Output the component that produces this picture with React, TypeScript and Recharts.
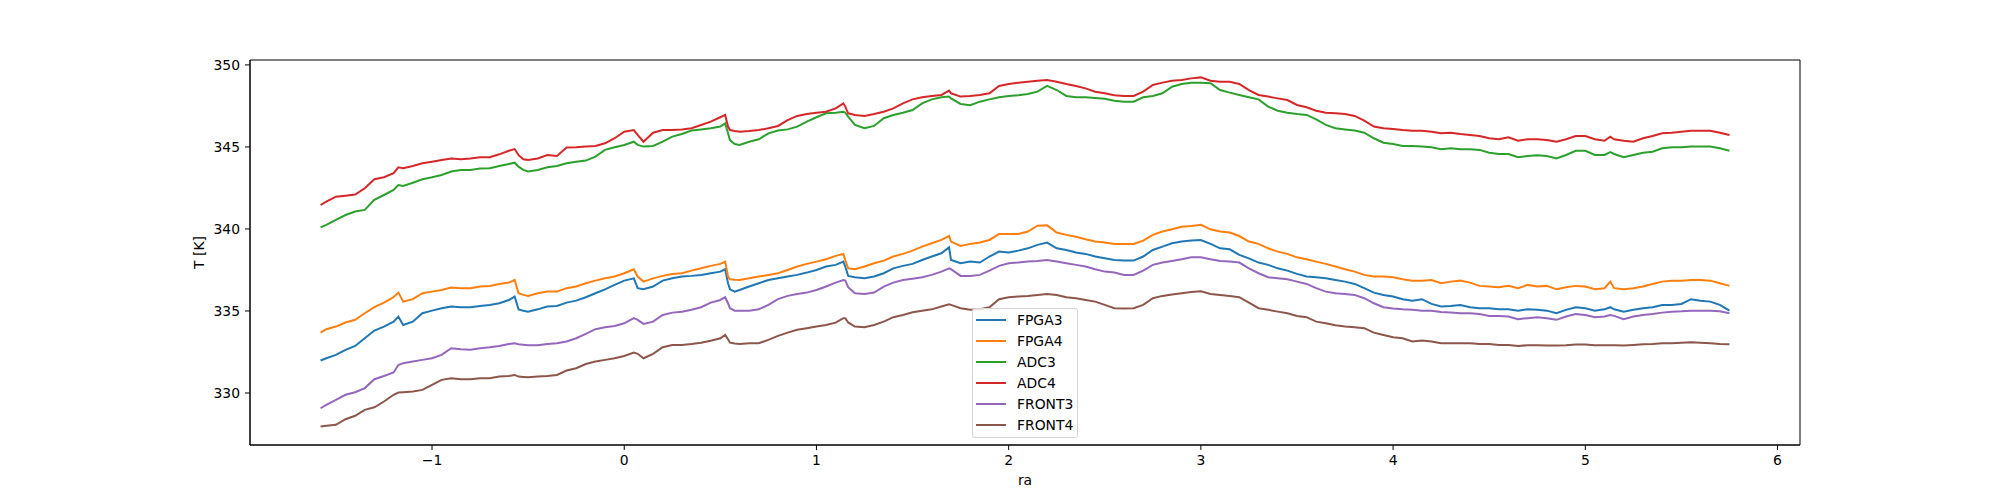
import { Legend, Line, LineChart, ReferenceArea, XAxis, YAxis } from 'recharts';

const raValues = [
  -1.58, -1.55, -1.5, -1.45, -1.4, -1.35, -1.3, -1.25, -1.2, -1.175, -1.15, -1.1, -1.05, -1.0, -0.95, -0.9, -0.85, -0.8, -0.75, -0.7, -0.65, -0.6, -0.57,
  -0.55, -0.525, -0.5, -0.45, -0.4, -0.35, -0.3, -0.25, -0.2, -0.15, -0.1, -0.05, 0, 0.05, 0.07, 0.1, 0.15, 0.2, 0.25, 0.3, 0.35, 0.4, 0.45,
  0.5, 0.525, 0.54, 0.55, 0.575, 0.6, 0.65, 0.7, 0.75, 0.8, 0.85, 0.9, 0.95, 1.0, 1.05, 1.1, 1.14, 1.15, 1.165, 1.2, 1.25, 1.3, 1.35, 1.4, 1.45,
  1.5, 1.55, 1.6, 1.65, 1.69, 1.7, 1.75, 1.8, 1.85, 1.9, 1.95, 2.0, 2.05, 2.1, 2.15, 2.2, 2.25, 2.3, 2.35, 2.4, 2.45, 2.5,
  2.55, 2.6, 2.65, 2.7, 2.75, 2.8, 2.85, 2.9, 2.95, 3.0, 3.05, 3.1, 3.15, 3.2, 3.25, 3.3, 3.35, 3.4, 3.45, 3.5, 3.55,
  3.6, 3.65, 3.7, 3.75, 3.8, 3.85, 3.9, 3.95, 4.0, 4.05, 4.1, 4.15, 4.2, 4.25, 4.3, 4.35, 4.4, 4.45, 4.5, 4.55, 4.6, 4.65,
  4.7, 4.75, 4.8, 4.85, 4.9, 4.95, 5.0, 5.05, 5.1, 5.13, 5.15, 5.2, 5.25, 5.3, 5.35, 5.4, 5.45, 5.5, 5.55, 5.6, 5.65, 5.7, 5.75,
];

const fpga3 = [
  331.98, 332.12, 332.32, 332.63, 332.87, 333.34, 333.81, 334.05, 334.35, 334.66, 334.15, 334.35, 334.86, 335.02, 335.17, 335.27, 335.23, 335.23, 335.31, 335.37, 335.47, 335.67, 335.88,
  335.1, 335.02, 334.96, 335.1, 335.27, 335.31, 335.51, 335.63, 335.84, 336.08, 336.32, 336.59, 336.85, 336.99, 336.39, 336.32, 336.49, 336.85, 336.99, 337.1, 337.14, 337.2, 337.3,
  337.4, 337.54, 336.69, 336.32, 336.18, 336.28, 336.49, 336.69, 336.89, 336.99, 337.1, 337.2, 337.34, 337.5, 337.71, 337.81, 338.01, 337.71, 337.14, 337.06, 336.99, 337.1, 337.3, 337.6, 337.75,
  337.87, 338.11, 338.32, 338.52, 338.88, 338.11, 337.91, 338.01, 337.95, 338.32, 338.62, 338.56, 338.68, 338.82, 339.03, 339.17, 338.82, 338.72, 338.56, 338.48, 338.32, 338.21,
  338.11, 338.07, 338.07, 338.32, 338.72, 338.92, 339.13, 339.23, 339.29, 339.33, 339.09, 338.82, 338.76, 338.42, 338.21, 337.95, 337.81, 337.6, 337.46, 337.26, 337.1,
  337.06, 336.99, 336.89, 336.79, 336.65, 336.39, 336.12, 335.98, 335.88, 335.72, 335.63, 335.72, 335.43, 335.27, 335.31, 335.37, 335.23, 335.17, 335.17, 335.1, 335.1, 335.02,
  335.1, 335.07, 335.02, 334.86, 335.07, 335.23, 335.17, 335.02, 335.1, 335.23, 335.1, 334.96, 335.07, 335.17, 335.23, 335.37, 335.37, 335.43, 335.72, 335.63, 335.57, 335.37, 335.02,
];

const fpga4 = [
  333.68, 333.89, 334.05, 334.3, 334.46, 334.86, 335.23, 335.51, 335.84, 336.12, 335.57, 335.72, 336.08, 336.18, 336.28, 336.43, 336.39, 336.39, 336.49, 336.53, 336.65, 336.73, 336.89,
  336.08, 335.98, 335.92, 336.08, 336.18, 336.18, 336.39, 336.49, 336.69, 336.85, 336.99, 337.1, 337.3, 337.54, 337.1, 336.79, 336.99, 337.14, 337.26, 337.3, 337.46, 337.6, 337.75,
  337.87, 338.01, 337.1, 336.93, 336.9, 336.89, 336.99, 337.1, 337.2, 337.3, 337.5, 337.71, 337.87, 338.01, 338.15, 338.36, 338.48, 338.11, 337.6, 337.54, 337.71, 337.91, 338.07, 338.32, 338.48,
  338.68, 338.92, 339.13, 339.33, 339.57, 339.23, 338.97, 339.09, 339.17, 339.33, 339.7, 339.7, 339.7, 339.84, 340.2, 340.22, 339.78, 339.64, 339.53, 339.37, 339.23, 339.17,
  339.09, 339.09, 339.09, 339.29, 339.64, 339.84, 339.98, 340.14, 340.18, 340.25, 339.98, 339.84, 339.78, 339.57, 339.23, 339.09, 338.82, 338.62, 338.48, 338.27, 338.15,
  338.01, 337.87, 337.71, 337.54, 337.4, 337.2, 337.1, 337.1, 337.06, 336.93, 336.85, 336.85, 336.89, 336.69, 336.79, 336.85, 336.73, 336.53, 336.49, 336.45, 336.53, 336.39,
  336.59, 336.49, 336.53, 336.32, 336.45, 336.53, 336.49, 336.32, 336.39, 336.79, 336.39, 336.32, 336.39, 336.49, 336.65, 336.79, 336.85, 336.85, 336.89, 336.89, 336.85, 336.69, 336.53,
];

const adc3 = [
  340.1, 340.25, 340.55, 340.85, 341.06, 341.16, 341.77, 342.07, 342.38, 342.68, 342.62, 342.82, 343.03, 343.15, 343.29, 343.5, 343.6, 343.6, 343.68, 343.7, 343.84, 343.96, 344.04,
  343.8, 343.6, 343.5, 343.6, 343.76, 343.84, 344.0, 344.1, 344.17, 344.41, 344.82, 344.98, 345.12, 345.32, 345.12, 345.02, 345.06, 345.32, 345.63, 345.79, 346.0, 346.07, 346.14,
  346.24, 346.44, 345.83, 345.42, 345.18, 345.12, 345.32, 345.47, 345.83, 346.0, 346.07, 346.24, 346.54, 346.81, 347.05, 347.09, 347.15, 347.09, 346.85, 346.34, 346.14, 346.28, 346.75, 346.95, 347.09,
  347.25, 347.66, 347.9, 348.03, 348.07, 347.96, 347.62, 347.54, 347.76, 347.9, 348.03, 348.11, 348.15, 348.23, 348.37, 348.72, 348.47, 348.11, 348.03, 348.03, 347.98, 347.94,
  347.82, 347.76, 347.76, 348.03, 348.11, 348.27, 348.67, 348.84, 348.92, 348.92, 348.88, 348.47, 348.31, 348.17, 348.03, 347.9, 347.46, 347.21, 347.09, 347.01, 346.95,
  346.68, 346.34, 346.14, 346.07, 346.0, 345.87, 345.53, 345.26, 345.18, 345.06, 345.06, 345.02, 344.98, 344.86, 344.92, 344.86, 344.86, 344.82, 344.65, 344.57, 344.57, 344.37,
  344.45, 344.49, 344.45, 344.3, 344.51, 344.77, 344.77, 344.51, 344.51, 344.69, 344.57, 344.37, 344.51, 344.65, 344.71, 344.92, 344.98, 344.98, 345.02, 345.02, 345.02, 344.92, 344.77,
];

const adc4 = [
  341.46, 341.67, 341.97, 342.03, 342.1, 342.48, 343.03, 343.15, 343.4, 343.76, 343.7, 343.84, 344.0, 344.1, 344.2, 344.3, 344.25, 344.3, 344.37, 344.37, 344.55, 344.77, 344.87,
  344.5, 344.25, 344.2, 344.3, 344.51, 344.45, 344.96, 344.98, 345.02, 345.06, 345.22, 345.53, 345.93, 346.03, 345.73, 345.32, 345.87, 346.03, 346.03, 346.07, 346.14, 346.34, 346.54,
  346.81, 346.95, 346.24, 346.03, 345.97, 345.93, 345.97, 346.03, 346.14, 346.28, 346.64, 346.89, 347.01, 347.09, 347.15, 347.35, 347.66, 347.46, 347.05, 346.95, 346.89, 347.01, 347.15, 347.35, 347.66,
  347.9, 348.03, 348.11, 348.17, 348.43, 348.27, 348.07, 348.11, 348.17, 348.27, 348.72, 348.84, 348.92, 348.98, 349.04, 349.08, 348.98, 348.84, 348.72, 348.57, 348.37, 348.27,
  348.15, 348.11, 348.11, 348.37, 348.78, 348.92, 349.04, 349.08, 349.18, 349.24, 349.04, 348.98, 348.98, 348.84, 348.47, 348.17, 348.07, 347.96, 347.86, 347.56, 347.42,
  347.21, 347.09, 347.05, 347.01, 346.89, 346.6, 346.24, 346.14, 346.1, 346.03, 345.99, 345.99, 345.93, 345.83, 345.87, 345.79, 345.73, 345.67, 345.53, 345.47, 345.59, 345.38,
  345.47, 345.47, 345.42, 345.32, 345.47, 345.67, 345.67, 345.47, 345.38, 345.63, 345.47, 345.38, 345.32, 345.53, 345.67, 345.83, 345.87, 345.93, 345.99, 345.99, 345.99, 345.87, 345.73,
];

const front3 = [
  329.07, 329.28, 329.58, 329.89, 330.05, 330.3, 330.84, 331.04, 331.25, 331.71, 331.82, 331.92, 332.02, 332.12, 332.32, 332.73, 332.67, 332.63, 332.73, 332.79, 332.87, 332.99, 333.03,
  332.97, 332.94, 332.91, 332.91, 332.99, 333.03, 333.14, 333.34, 333.6, 333.89, 334.01, 334.09, 334.25, 334.56, 334.46, 334.21, 334.35, 334.76, 334.9, 334.96, 335.07, 335.23, 335.51,
  335.67, 335.84, 335.47, 335.17, 335.02, 335.02, 335.02, 335.1, 335.37, 335.72, 335.92, 336.04, 336.12, 336.28, 336.49, 336.73, 336.89, 336.85, 336.45, 336.08, 336.04, 336.12, 336.49, 336.73, 336.89,
  336.97, 337.06, 337.2, 337.4, 337.6, 337.55, 337.14, 337.14, 337.2, 337.46, 337.75, 337.91, 337.95, 338.01, 338.05, 338.11, 338.01, 337.91, 337.81, 337.71, 337.54, 337.4,
  337.34, 337.2, 337.2, 337.46, 337.81, 337.95, 338.05, 338.15, 338.27, 338.27, 338.15, 338.05, 338.01, 337.95, 337.6, 337.3, 337.06, 336.99, 336.93, 336.79, 336.65,
  336.39, 336.18, 336.08, 336.04, 335.98, 335.78, 335.47, 335.23, 335.15, 335.1, 335.07, 335.02, 335.02, 334.94, 334.9, 334.86, 334.86, 334.82, 334.7, 334.7, 334.66, 334.5,
  334.56, 334.62, 334.56, 334.46, 334.66, 334.82, 334.76, 334.62, 334.66, 334.76, 334.7, 334.5, 334.66, 334.76, 334.82, 334.9, 334.96, 334.98, 335.02, 335.02, 335.02, 334.98, 334.86,
];

const front4 = [
  327.96, 328.0, 328.06, 328.4, 328.61, 328.97, 329.13, 329.48, 329.89, 330.03, 330.05, 330.09, 330.19, 330.5, 330.8, 330.9, 330.84, 330.84, 330.9, 330.9, 331.0, 331.04, 331.1,
  331.0, 330.98, 330.96, 331.0, 331.04, 331.1, 331.37, 331.51, 331.77, 331.92, 332.02, 332.12, 332.26, 332.47, 332.39, 332.12, 332.39, 332.79, 332.93, 332.93, 332.99, 333.07, 333.18,
  333.34, 333.54, 333.28, 333.07, 333.02, 332.99, 333.03, 333.03, 333.24, 333.48, 333.68, 333.85, 333.95, 334.05, 334.15, 334.29, 334.56, 334.56, 334.3, 334.05, 334.01, 334.15, 334.35, 334.62, 334.76,
  334.92, 335.02, 335.1, 335.27, 335.41, 335.37, 335.17, 335.07, 335.1, 335.23, 335.72, 335.84, 335.88, 335.92, 335.98, 336.04, 335.98, 335.84, 335.78, 335.67, 335.57, 335.37,
  335.17, 335.15, 335.17, 335.37, 335.78, 335.92, 336.0, 336.08, 336.16, 336.2, 336.04, 335.98, 335.92, 335.84, 335.51, 335.17, 335.07, 334.96, 334.86, 334.7, 334.62,
  334.35, 334.25, 334.13, 334.05, 334.01, 333.95, 333.68, 333.54, 333.4, 333.34, 333.14, 333.2, 333.14, 333.03, 333.03, 333.03, 333.03, 332.99, 332.99, 332.93, 332.93, 332.87,
  332.91, 332.91, 332.89, 332.89, 332.91, 332.95, 332.95, 332.91, 332.91, 332.91, 332.91, 332.89, 332.93, 332.97, 332.99, 333.03, 333.03, 333.07, 333.09, 333.07, 333.03, 332.99, 332.97,
];

const seriesNames = ['FPGA3', 'FPGA4', 'ADC3', 'ADC4', 'FRONT3', 'FRONT4'];
const seriesColors = ['#1f77b4', '#ff7f0e', '#2ca02c', '#d62728', '#9467bd', '#8c564b'];
const seriesValues = [fpga3, fpga4, adc3, adc4, front3, front4];

const xTicks = [-1, 0, 1, 2, 3, 4, 5, 6];
const yTicks = [330, 335, 340, 345, 350];
const xDomain = [-1.947, 6.117];
const yDomain = [326.83, 350.3];

const data = raValues.map((ra, i) => {
  const row: Record<string, number> = { ra };
  seriesNames.forEach((name, k) => {
    row[name] = seriesValues[k][i];
  });
  return row;
});

const FONT = 'DejaVu Sans, sans-serif';
const tickStyle = { fill: '#000', fontSize: 13.9, fontFamily: FONT };

const fmtTick = (v: number) => (v < 0 ? `\u2212${Math.abs(v)}` : `${v}`);

// legend keeps the plotting order, not the alphabetical one
const renderLegend = () => (
  <div
    style={{
      position: 'relative',
      width: 104,
      height: 128,
      border: '1px solid #d4d4d4',
      borderRadius: 3,
      background: 'rgba(255,255,255,0.8)',
      fontFamily: FONT,
      fontSize: 13.9,
      color: '#000',
    }}
  >
    {seriesNames.map((name, i) => (
      <div
        key={name}
        style={{ position: 'absolute', left: 3, top: 4 + i * 21, height: 14, display: 'flex', alignItems: 'center' }}
      >
        <span style={{ display: 'inline-block', width: 30, borderTop: `2px solid ${seriesColors[i]}` }} />
        <span style={{ marginLeft: 11, lineHeight: '14px', whiteSpace: 'nowrap' }}>{name}</span>
      </div>
    ))}
  </div>
);

export default function App() {
  return (
    <div style={{ position: 'absolute', left: 0, top: 0, background: '#fff' }}>
      <LineChart width={2000} height={500} data={data} margin={{ top: 60, right: 200, bottom: 0, left: 190 }}>
        <XAxis
          dataKey="ra"
          type="number"
          domain={xDomain}
          ticks={xTicks}
          interval={0}
          tickFormatter={fmtTick}
          tick={tickStyle}
          tickSize={5}
          tickMargin={5}
          stroke="#000"
          height={55}
          label={(p: any) => (
            <text
              x={p.viewBox.x + p.viewBox.width / 2}
              y={p.viewBox.y + 40}
              textAnchor="middle"
              fontFamily={FONT}
              fontSize={13.9}
              fill="#000"
            >
              ra
            </text>
          )}
        />
        <YAxis
          type="number"
          domain={yDomain}
          ticks={yTicks}
          interval={0}
          tick={tickStyle}
          tickSize={5}
          tickMargin={5}
          stroke="#000"
          width={60}
          label={(p: any) => {
            const cx = p.viewBox.x + 9;
            const cy = p.viewBox.y + p.viewBox.height / 2;
            return (
              <text
                x={cx}
                y={cy}
                transform={`rotate(-90 ${cx} ${cy})`}
                textAnchor="middle"
                dominantBaseline="central"
                fontFamily={FONT}
                fontSize={13.9}
                fill="#000"
              >
                T [K]
              </text>
            );
          }}
        />
        {/* axes frame (matplotlib draws all four spines) */}
        <ReferenceArea
          x1={xDomain[0]}
          x2={xDomain[1]}
          y1={yDomain[0]}
          y2={yDomain[1]}
          fill="none"
          stroke="#000"
          strokeWidth={1}
          ifOverflow="visible"
        />
        {seriesNames.map((name, k) => (
          <Line
            key={name}
            type="linear"
            dataKey={name}
            name={name}
            stroke={seriesColors[k]}
            strokeWidth={2}
            dot={false}
            activeDot={false}
            isAnimationActive={false}
          />
        ))}
        <Legend
          layout="vertical"
          align="center"
          verticalAlign="middle"
          content={renderLegend}
          wrapperStyle={{ left: 972, top: 308, width: 106, height: 130 }}
        />
      </LineChart>
    </div>
  );
}
